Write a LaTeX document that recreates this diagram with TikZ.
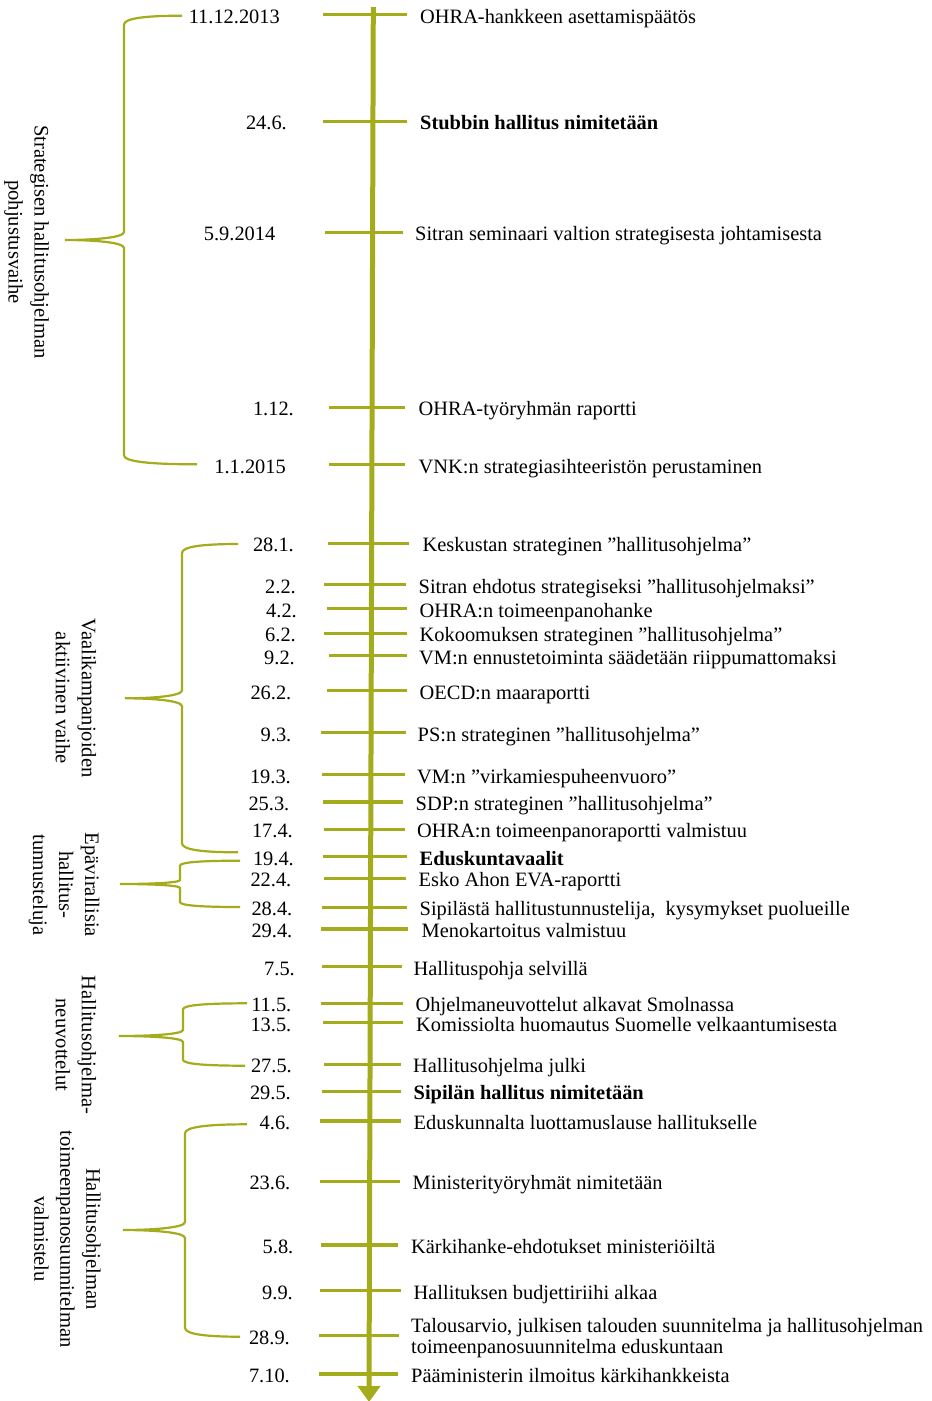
\documentclass[tikz,border=0pt]{standalone}
\usepackage{fontspec}
\setmainfont{Liberation Serif}
\usetikzlibrary{arrows.meta}
\definecolor{tlgreen}{RGB}{165,172,28}
\newcommand\evfont{\fontsize{20.4}{20.5}\selectfont}
\newcommand\phfont{\fontsize{20.6}{26}\selectfont}
\tikzset{
  axisline/.style={draw=tlgreen, line width=5pt, -{Triangle[width=22pt,length=16pt]}},
  tickline/.style={draw=tlgreen, line width=3.3pt},
  bracepath/.style={draw=tlgreen, line width=2.2pt},
  datelabel/.style={anchor=base east, inner sep=0pt, font=\evfont},
  evlabel/.style={anchor=base west, inner sep=0pt, font=\evfont},
  phaselabel/.style={rotate=-90, align=center, inner sep=0pt, font=\phfont},
}
% #1 index, #2 y, #3 tick x1, #4 tick x2, #5 date right x, #6 date, #7 text left x, #8 text
\newcommand\tlevent[8]{%
  \draw[tickline] (#3,#2) -- (#4,#2);
  \node[datelabel] (d#1) at (#5,{#2+8.5}) {#6};
  \node[evlabel] (e#1) at (#7,{#2+8.5}) {#8};
}
% #1 xv, #2 xtip, #3 ytip, #4 xtop, #5 ytop, #6 xbot, #7 ybot, #8 corner, #9 cusp
\newcommand\tlbrace[9]{%
  \draw[bracepath] (#4,#5) .. controls ({#1+0.35*(#4-#1)},#5) and (#1,{#5+0.3*#8}) .. (#1,{#5+#8})
    -- (#1,{#3-#9}) .. controls (#1,{#3-0.3*#9}) and ({#1+0.5*(#2-#1)},#3) .. (#2,#3)
    .. controls ({#1+0.5*(#2-#1)},#3) and (#1,{#3+0.3*#9}) .. (#1,{#3+#9})
    -- (#1,{#7-#8}) .. controls (#1,{#7-0.3*#8}) and ({#1+0.35*(#6-#1)},#7) .. (#6,#7);
}
\begin{document}
\begin{tikzpicture}[x=1pt,y=-1pt]
\path[fill=white,use as bounding box] (0,0) rectangle (932,1401);

\coordinate (axtop) at (373.3,7);
\coordinate (axbot) at (369,1402);
\draw[axisline] (axtop) -- (axbot);

\tlevent{1}{14.7}{323}{407}{280}{11.12.2013}{420}{OHRA-hankkeen asettamispäätös}
\tlevent{2}{121.3}{323}{407}{287}{24.6.}{420}{\textbf{Stubbin hallitus nimitetään}}
\tlevent{3}{232.3}{325}{403}{275.5}{5.9.2014}{415}{Sitran seminaari valtion strategisesta johtamisesta}
\tlevent{4}{407.3}{329}{405}{294}{1.12.}{418.5}{OHRA-työryhmän raportti}
\tlevent{5}{464.7}{329}{405}{286}{1.1.2015}{418.5}{VNK:n strategiasihteeristön perustaminen}
\tlevent{6}{543.3}{328}{409}{294}{28.1.}{422.5}{Keskustan strateginen ”hallitusohjelma”}
\tlevent{7}{584.7}{324}{406}{296}{2.2.}{418.5}{Sitran ehdotus strategiseksi ”hallitusohjelmaksi”}
\tlevent{8}{608.7}{327}{407}{297}{4.2.}{419.5}{OHRA:n toimeenpanohanke}
\tlevent{9}{633.3}{324}{407}{296}{6.2.}{419.5}{Kokoomuksen strateginen ”hallitusohjelma”}
\tlevent{10}{655.7}{329}{407}{295}{9.2.}{419}{VM:n ennustetoiminta säädetään riippumattomaksi}
\tlevent{11}{690.7}{327}{407}{291.5}{26.2.}{419.5}{OECD:n maaraportti}
\tlevent{12}{732.7}{321}{406}{291.5}{9.3.}{417.5}{PS:n strateginen ”hallitusohjelma”}
\tlevent{13}{774.7}{322}{405}{291}{19.3.}{417}{VM:n ”virkamiespuheenvuoro”}
\tlevent{14}{802}{323}{403}{289.5}{25.3.}{415.5}{SDP:n strateginen ”hallitusohjelma”}
\tlevent{15}{829.3}{324}{405}{293}{17.4.}{417}{OHRA:n toimeenpanoraportti valmistuu}
\tlevent{16}{856.7}{323}{407}{294}{19.4.}{419.5}{\textbf{Eduskuntavaalit}}
\tlevent{17}{878.3}{324}{406}{291.5}{22.4.}{418.5}{Esko Ahon EVA-raportti}
\tlevent{18}{907.3}{322}{407}{292.5}{28.4.}{419.5}{Sipilästä hallitustunnustelija,\ \ kysymykset puolueille}
\tlevent{19}{929}{321}{408}{292.5}{29.4.}{421.5}{Menokartoitus valmistuu}
\tlevent{20}{966.7}{322}{402}{295}{7.5.}{413.5}{Hallituspohja selvillä}
\tlevent{21}{1003.3}{321}{403}{291.5}{11.5.}{415.5}{Ohjelmaneuvottelut alkavat Smolnassa}
\tlevent{22}{1022.7}{323}{403}{291.5}{13.5.}{416}{Komissiolta huomautus Suomelle velkaantumisesta}
\tlevent{23}{1064.3}{324}{401}{292}{27.5.}{413}{Hallitusohjelma julki}
\tlevent{24}{1091.3}{322}{401}{291}{29.5.}{413.5}{\textbf{Sipilän hallitus nimitetään}}
\tlevent{25}{1121}{320}{401}{290.5}{4.6.}{413.5}{Eduskunnalta luottamuslause hallitukselle}
\tlevent{26}{1181.3}{320}{400}{290.5}{23.6.}{412.5}{Ministerityöryhmät nimitetään}
\tlevent{27}{1245}{321}{398}{293.5}{5.8.}{411}{Kärkihanke-ehdotukset ministeriöiltä}
\tlevent{28}{1290.7}{320}{401}{293}{9.9.}{413.5}{Hallituksen budjettiriihi alkaa}
\draw[tickline] (319,1335.7) -- (399,1335.7);
\node[datelabel] (d29) at (290,1344.2) {28.9.};
\node[anchor=west, align=left, inner sep=0pt, font=\evfont] (e29) at (411,1338)
  {Talousarvio, julkisen talouden suunnitelma ja hallitusohjelman\\toimeenpanosuunnitelma eduskuntaan};
\tlevent{30}{1374}{319}{398}{290}{7.10.}{411}{Pääministerin ilmoitus kärkihankkeista}

\tlbrace{124}{65}{240}{182}{15.7}{197}{464.3}{9}{8}
\tlbrace{182}{125}{698.3}{238}{544}{238}{852.3}{9}{8}
\tlbrace{180}{120}{884}{240}{860.7}{240}{907}{5}{4}
\tlbrace{183}{119}{1036}{247}{1003.3}{245}{1065.7}{6}{6}
\tlbrace{185}{123}{1230}{247}{1124.3}{240}{1336.7}{9}{8}

\node[phaselabel] (p1) at (26.5,242) {Strategisen hallitusohjelman\\pohjustusvaihe};
\node[phaselabel] (p2) at (76,698) {Vaalikampanjoiden\\aktiivinen vaihe};
\node[phaselabel] (p3) at (64,885) {Epävirallisia\\hallitus-\\tunnusteluja};
\node[phaselabel] (p4) at (76,1045) {Hallitusohjelma-\\neuvottelut};
\node[phaselabel] (p5) at (67.5,1239) {Hallitusohjelman\\toimeenpanosuunnitelman\\valmistelu};
\end{tikzpicture}
\end{document}
